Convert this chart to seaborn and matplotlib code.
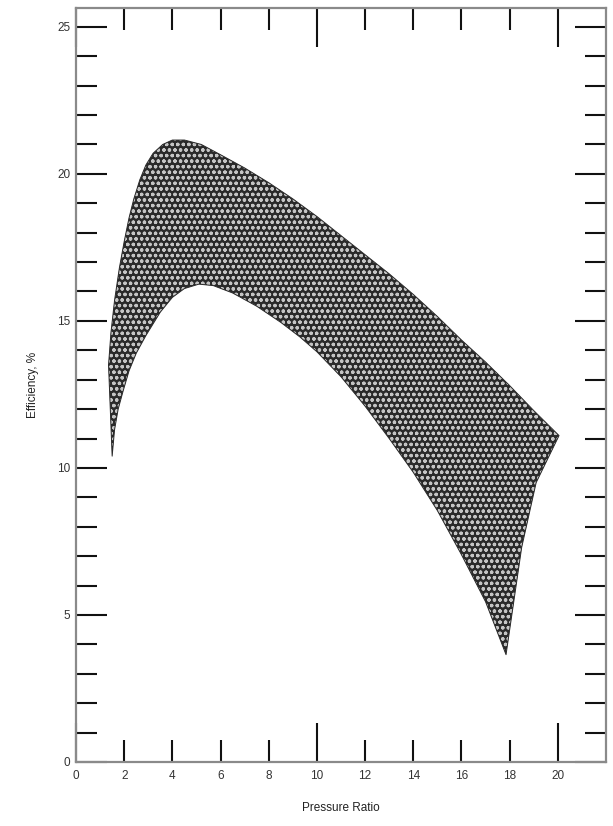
import numpy as np
import pandas as pd
import matplotlib
matplotlib.use("Agg")
import matplotlib.pyplot as plt
import seaborn as sns

# upper bound of the efficiency band (left to right)
upper_x = [1.35, 1.45, 1.6, 1.8, 2.0, 2.2, 2.4, 2.65, 2.9, 3.2, 3.6, 4.0, 4.5,
           5.2, 6.0, 7.0, 8.0, 9.0, 10.0, 11.0, 12.0, 13.0, 14.0, 15.0,
           16.0, 17.0, 18.0, 19.0, 20.05]
upper_y = [13.5, 14.6, 15.7, 16.8, 17.7, 18.5, 19.15, 19.8, 20.3, 20.7, 21.0,
           21.15, 21.15, 21.0, 20.65, 20.2, 19.7, 19.15, 18.55, 17.9, 17.25,
           16.6, 15.9, 15.15, 14.35, 13.6, 12.8, 11.95, 11.1]

# right edge, from the end of the upper bound down to the lower tip
edge_x = [20.05, 19.1, 18.5, 17.85]
edge_y = [11.1, 9.5, 7.3, 3.65]

# lower bound of the band (left to right)
lower_x = [1.5, 1.6, 1.75, 1.95, 2.2, 2.5, 2.9, 3.5, 4.0, 4.5, 5.1, 5.7, 6.5,
           7.5, 8.5, 9.3, 10.0, 11.0, 12.0, 13.0, 14.0, 15.0, 16.0, 17.0, 17.85]
lower_y = [10.4, 11.3, 12.0, 12.6, 13.3, 13.9, 14.5, 15.3, 15.8, 16.1, 16.25,
           16.2, 15.95, 15.5, 14.95, 14.45, 13.95, 13.1, 12.1, 11.0, 9.85,
           8.55, 7.05, 5.45, 3.65]

x_major = [0, 10, 20]
x_minor = [2, 4, 6, 8, 12, 14, 16, 18]
y_major = [0, 5, 10, 15, 20, 25]
y_minor = [v for v in range(1, 25) if v % 5 != 0]

sns.set_style("ticks")
plt.rcParams["font.family"] = ["Liberation Sans", "DejaVu Sans"]
plt.rcParams["hatch.linewidth"] = 0.9

fig = plt.figure(figsize=(6.13, 8.26), dpi=100)
ax = fig.add_axes([0.124, 0.0775, 0.8646, 0.9128])

# band outline as one closed polygon
poly_x = upper_x + edge_x[1:] + lower_x[::-1] + [upper_x[0]]
poly_y = upper_y + edge_y[1:] + lower_y[::-1] + [upper_y[0]]
ax.fill(poly_x, poly_y, facecolor="#2a2a2a", edgecolor="none",
        linewidth=0, zorder=2)
ax.fill(poly_x, poly_y, facecolor="none", edgecolor="#c4c4c4",
        hatch="ooo", linewidth=0, zorder=2.5)

outline = pd.DataFrame({"x": poly_x, "y": poly_y, "k": np.arange(len(poly_x))})
sns.lineplot(data=outline, x="x", y="y", sort=False, estimator=None,
             color="#2a2a2a", linewidth=0.7, ax=ax, zorder=3)

ax.set_xlim(0, 22)
ax.set_ylim(0, 25.64)

ax.set_xticks(x_major)
ax.set_xticklabels([str(v) for v in x_major])
ax.set_xticks(x_minor, minor=True)
ax.set_xticklabels([str(v) for v in x_minor], minor=True)
ax.set_yticks(y_major)
ax.set_yticklabels([str(v) for v in y_major])
ax.set_yticks(y_minor, minor=True)

ax.tick_params(axis="x", which="major", direction="in", length=28, width=1.5,
               top=True, bottom=True, pad=6, labelsize=8.5, labelcolor="#333333",
               color="#111111")
ax.tick_params(axis="x", which="minor", direction="in", length=16, width=1.5,
               top=True, bottom=True, pad=6, labelsize=8.5, labelcolor="#333333",
               color="#111111")
ax.tick_params(axis="y", which="major", direction="in", length=22, width=1.5,
               left=True, right=True, pad=4, labelsize=8.5, labelcolor="#333333",
               color="#111111")
ax.tick_params(axis="y", which="minor", direction="in", length=15, width=1.5,
               left=True, right=True, color="#111111")

for s in ax.spines.values():
    s.set_visible(True)
    s.set_color("#8a8a8a")
    s.set_linewidth(1.6)

ax.set_xlabel("Pressure Ratio", fontsize=8.5, color="#222222", labelpad=14)
ax.set_ylabel("Efficiency, %", fontsize=8.5, color="#222222", labelpad=13)

fig.savefig("out.png", dpi=100)
